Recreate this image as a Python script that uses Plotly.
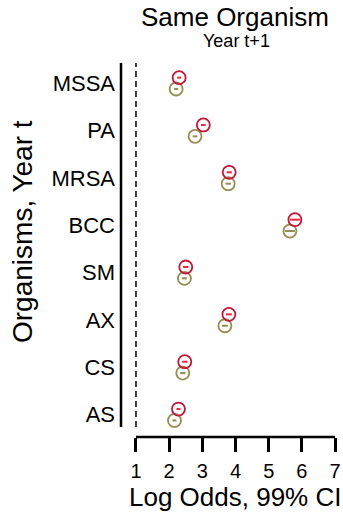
import plotly.graph_objects as go

organisms = ["MSSA", "PA", "MRSA", "BCC", "SM", "AX", "CS", "AS"]
red_vals = [2.30, 3.03, 3.81, 5.79, 2.50, 3.80, 2.47, 2.28]
red_err = [0.06, 0.07, 0.08, 0.15, 0.08, 0.09, 0.08, 0.06]
olive_vals = [2.21, 2.78, 3.78, 5.64, 2.46, 3.68, 2.41, 2.16]
olive_err = [0.06, 0.07, 0.08, 0.15, 0.08, 0.09, 0.08, 0.06]
x_ticks = [1, 2, 3, 4, 5, 6, 7]

n = len(organisms)
pos = [n - 1 - i for i in range(n)]
off = 0.12
RED = "#C0183A"
RED_IN = "#E8283F"
OLIVE = "#958D52"
FONT = "Liberation Sans, Arial, sans-serif"

fig = go.Figure()
fig.add_trace(go.Scatter(
    x=olive_vals, y=[p - off for p in pos], mode="markers",
    marker=dict(symbol="circle-open", size=13, color=OLIVE, line=dict(width=1.8, color=OLIVE)),
    error_x=dict(type="data", array=olive_err, width=0, thickness=2, color=OLIVE),
    showlegend=False, hoverinfo="skip"))
fig.add_trace(go.Scatter(
    x=red_vals, y=[p + off for p in pos], mode="markers",
    marker=dict(symbol="circle-open", size=13, color=RED, line=dict(width=1.8, color=RED)),
    error_x=dict(type="data", array=red_err, width=0, thickness=2, color=RED_IN),
    showlegend=False, hoverinfo="skip"))

# dashed reference line at x = 1
fig.add_shape(type="line", xref="x", yref="y", x0=1, x1=1, y0=-0.26, y1=7.43,
              line=dict(color="black", width=1.5, dash="6px,4px"), layer="below")
# y axis line
fig.add_shape(type="line", xref="paper", yref="y", x0=0, x1=0, y0=-0.26, y1=7.43,
              line=dict(color="black", width=2.5))
# x axis line (from first to last tick)
fig.add_shape(type="line", xref="x", yref="paper", x0=x_ticks[0], x1=x_ticks[-1], y0=0, y1=0,
              line=dict(color="black", width=2.5))

def py(px):
    # convert a pixel row into paper coordinates (plot area 62..437)
    return (437 - px) / 375.0

annotations = [
    dict(text="Same Organism", xref="paper", yref="paper", x=0.512, y=py(17),
         xanchor="center", yanchor="middle", showarrow=False, font=dict(size=26, family=FONT)),
    dict(text="Year t+1", xref="paper", yref="paper", x=0.52, y=py(41),
         xanchor="center", yanchor="middle", showarrow=False, font=dict(size=18, family=FONT)),
    dict(text="Organisms, Year t", xref="paper", yref="paper", x=-0.446, y=py(231),
         xanchor="center", yanchor="middle", textangle=-90, showarrow=False,
         font=dict(size=28, family=FONT)),
    dict(text="Log Odds, 99% CI", xref="paper", yref="paper", x=0.027, y=py(497),
         xanchor="left", yanchor="middle", showarrow=False, font=dict(size=26, family=FONT)),
]

fig.update_layout(
    width=343, height=516,
    margin=dict(l=121, r=0, t=62, b=79),
    plot_bgcolor="white", paper_bgcolor="white",
    font=dict(family=FONT, color="black"),
    annotations=annotations,
    hovermode=False,
    xaxis=dict(range=[0.548, 7.24], showgrid=False, zeroline=False, showline=False,
               tickvals=x_ticks, ticktext=[str(t) for t in x_ticks],
               ticks="outside", ticklen=14, tickwidth=2.5, tickcolor="black",
               tickfont=dict(size=20, family=FONT), ticklabelstandoff=2),
    yaxis=dict(range=[-0.47, 7.45], showgrid=False, zeroline=False, showline=False,
               tickvals=pos, ticktext=organisms, ticks="",
               tickfont=dict(size=22, family=FONT), ticklabelstandoff=5),
)

fig.write_html("out.html", config={"displayModeBar": False},
               post_script="document.body.style.margin='0';document.body.style.overflow='hidden';")
